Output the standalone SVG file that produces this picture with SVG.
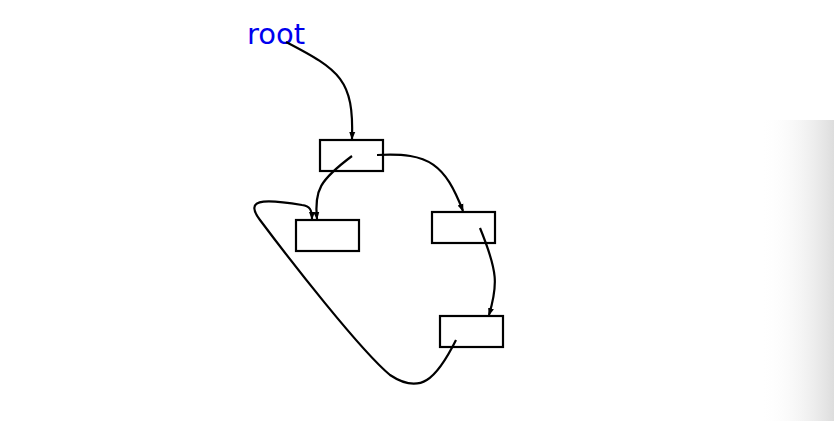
<svg xmlns="http://www.w3.org/2000/svg" width="834" height="421" viewBox="0 0 834 421">
<defs>
<linearGradient id="sh" x1="0" y1="0" x2="1" y2="0"><stop offset="0" stop-color="#fff" stop-opacity="0"/><stop offset="1" stop-color="#ddd"/></linearGradient>
<marker id="a" markerWidth="8" markerHeight="8" refX="7" refY="4" orient="auto" markerUnits="userSpaceOnUse"><path d="M0,1 L8,4 L0,7 Z" fill="#000"/></marker>
<style>.n{fill:#fff;stroke:#000;stroke-width:2.2}.c{fill:none;stroke:#000;stroke-width:2.2}</style>
</defs>
<rect width="834" height="421" fill="#fff"/>
<rect x="760" y="120" width="74" height="301" fill="url(#sh)"/>
<text x="247" y="44" font-family="DejaVu Sans, sans-serif" font-size="29" fill="#0000ee">root</text>
<g id="n1"><rect class="n" x="320" y="140" width="63" height="31"/></g>
<g id="n2"><rect class="n" x="296" y="220" width="63" height="31"/></g>
<g id="n3"><rect class="n" x="432" y="212" width="63" height="31"/></g>
<g id="n4"><rect class="n" x="440" y="316" width="63" height="31"/></g>
<g id="connectors">
<path class="c" marker-end="url(#a)" d="M286,42 C340,70 354,80 352,139"/>
<path class="c" marker-end="url(#a)" d="M352,156 C320,180 314,190 317,219"/>
<path class="c" marker-end="url(#a)" d="M377,155 C430,152 445,165 463,211"/>
<path class="c" marker-end="url(#a)" d="M480,228 C498,272 498,285 489,315"/>
<path class="c" marker-end="url(#a)" d="M456,340 C436,380 420,395 390,375 C360,350 290,260 260,220 C245,200 260,198 302,205 C310,206 312,210 312,219"/>
</g>
</svg>
